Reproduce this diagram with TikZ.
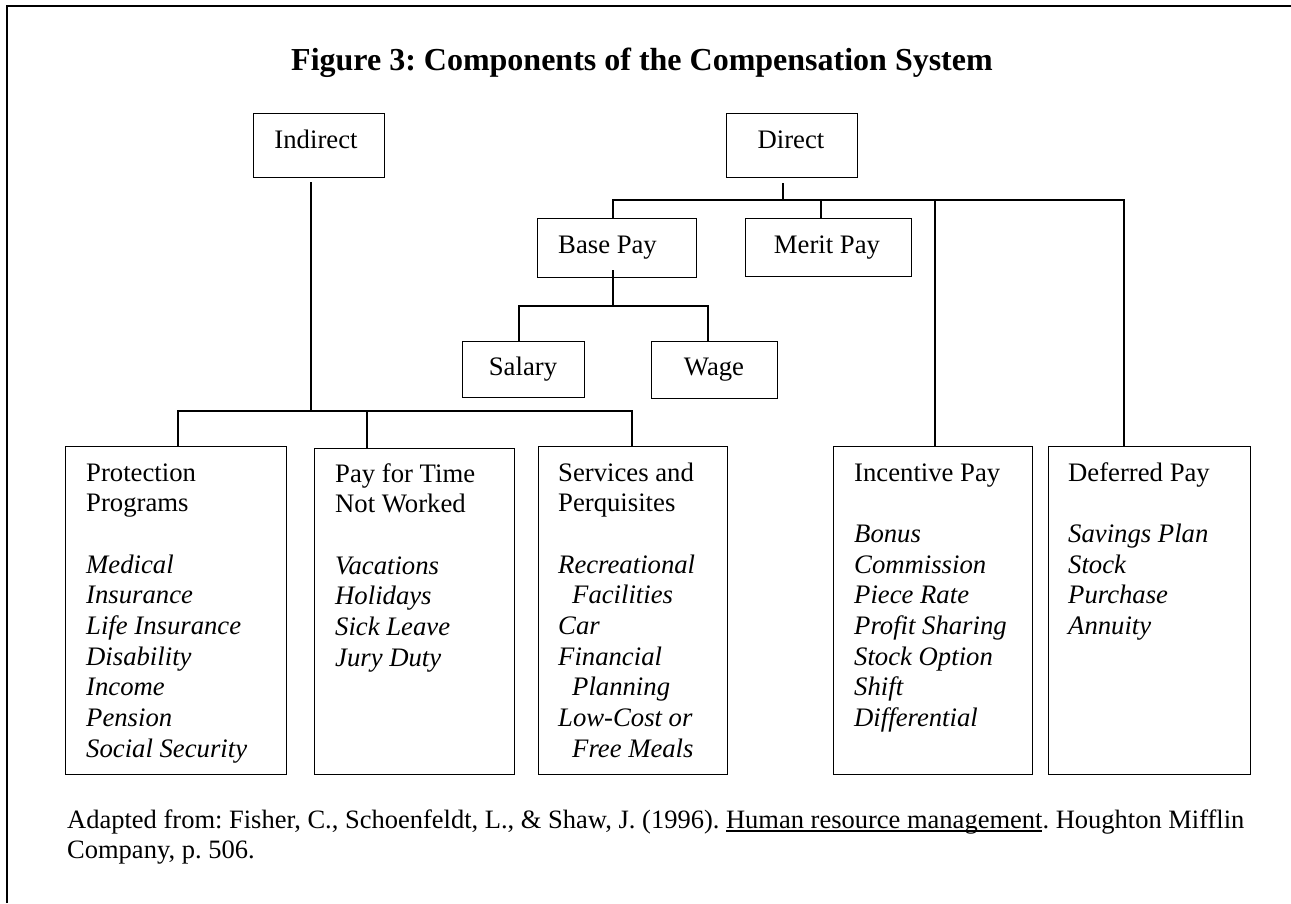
\documentclass[tikz,border=0pt]{standalone}
\usepackage{fontspec}
\setmainfont{Liberation Serif}
\frenchspacing
\newcommand\bodyfont{\fontsize{26.7}{30.7}\selectfont}
\newcommand\footfont{\fontsize{26.5}{30}\selectfont}
\newcommand\ind{\hspace*{14pt}}
\newcommand\myul[1]{\setbox0\hbox{#1}\rlap{\rule[-4pt]{\wd0}{2pt}}\box0}
\tikzset{
  box/.style={draw, line width=1.3pt, inner sep=0pt, anchor=north west},
  txt/.style={inner sep=0pt, font=\bodyfont},
  conn/.style={line width=1.3pt}
}
\begin{document}
\begin{tikzpicture}[x=1pt, y=-1pt]
\useasboundingbox (0,0) rectangle (1291,903);
% page frame
\draw[line width=2.2pt] (7,903) -- (7,6) -- (1291,6);
% title
\node[inner sep=0pt, anchor=base west, font=\fontsize{32}{36}\selectfont\bfseries] (title) at (291,70) {Figure 3: Components of the Compensation System};
% boxes
\node[box, minimum width=131pt, minimum height=64pt] (indir) at (253,113) {};
\node[box, minimum width=131pt, minimum height=64pt] (dir) at (726,113) {};
\node[box, minimum width=159pt, minimum height=59pt] (base) at (537,218) {};
\node[box, minimum width=166pt, minimum height=58pt] (merit) at (745,218) {};
\node[box, minimum width=122pt, minimum height=56pt] (sal) at (462,341) {};
\node[box, minimum width=126pt, minimum height=57pt] (wage) at (651,341) {};
\node[box, minimum width=221pt, minimum height=328pt] (prot) at (65,446) {};
\node[box, minimum width=200pt, minimum height=326pt] (pay) at (314,448) {};
\node[box, minimum width=189pt, minimum height=328pt] (serv) at (538,446) {};
\node[box, minimum width=199pt, minimum height=328pt] (inc) at (833,446) {};
\node[box, minimum width=202pt, minimum height=328pt] (def) at (1048,446) {};
% box texts
\node[txt, anchor=base] (indir-t) at (316,148) {Indirect};
\node[txt, anchor=base] (dir-t) at (791,148) {Direct};
\node[txt, anchor=base west] (base-t) at (558,253) {Base Pay};
\node[txt, anchor=base] (merit-t) at (827,253) {Merit Pay};
\node[txt, anchor=base] (sal-t) at (523,375) {Salary};
\node[txt, anchor=base] (wage-t) at (714,375) {Wage};
\node[txt, anchor=base west] (prot-t) at (86,481) {\vtop{\hbox{Protection}\hbox{Programs}\hbox{}%
  \hbox{\itshape Medical}\hbox{\itshape Insurance}\hbox{\itshape Life Insurance}\hbox{\itshape Disability}%
  \hbox{\itshape Income}\hbox{\itshape Pension}\hbox{\itshape Social Security}}};
\node[txt, anchor=base west] (pay-t) at (335,482) {\vtop{\hbox{Pay for Time}\hbox{Not Worked}\hbox{}%
  \hbox{\itshape Vacations}\hbox{\itshape Holidays}\hbox{\itshape Sick Leave}\hbox{\itshape Jury Duty}}};
\node[txt, anchor=base west] (serv-t) at (558,481) {\vtop{\hbox{Services and}\hbox{Perquisites}\hbox{}%
  \hbox{\itshape Recreational}\hbox{\ind\itshape Facilities}\hbox{\itshape Car}\hbox{\itshape Financial}%
  \hbox{\ind\itshape Planning}\hbox{\itshape Low-Cost or}\hbox{\ind\itshape Free Meals}}};
\node[txt, anchor=base west] (inc-t) at (854,481) {\vtop{\hbox{Incentive Pay}\hbox{}%
  \hbox{\itshape Bonus}\hbox{\itshape Commission}\hbox{\itshape Piece Rate}\hbox{\itshape Profit Sharing}%
  \hbox{\itshape Stock Option}\hbox{\itshape Shift}\hbox{\itshape Differential}}};
\node[txt, anchor=base west] (def-t) at (1068,481) {\vtop{\hbox{Deferred Pay}\hbox{}%
  \hbox{\itshape Savings Plan}\hbox{\itshape Stock}\hbox{\itshape Purchase}\hbox{\itshape Annuity}}};
% indirect connectors
\coordinate (i0) at (311,182);
\coordinate (i1) at (311,411);
\coordinate (ib1) at (178,411);
\coordinate (ib2) at (367,411);
\coordinate (ib3) at (632,411);
\draw[conn] (i0) -- (i1);
\draw[conn] (ib1 |- prot.north) -- (ib1) -- (ib3) -- (ib3 |- serv.north);
\draw[conn] (ib2) -- (ib2 |- pay.north);
% direct connectors
\coordinate (d0) at (783,183);
\coordinate (d1) at (783,200);
\coordinate (db1) at (613,200);
\coordinate (db2) at (821,200);
\coordinate (db3) at (935,200);
\coordinate (db4) at (1124,200);
\draw[conn] (d0) -- (d1);
\draw[conn] (db1 |- base.north) -- (db1) -- (db4) -- (db4 |- def.north);
\draw[conn] (db2) -- (db2 |- merit.north);
\draw[conn] (db3) -- (db3 |- inc.north);
% base pay connectors
\coordinate (b0) at (613,270);
\coordinate (b1) at (613,306);
\coordinate (bb1) at (519,306);
\coordinate (bb2) at (708,306);
\draw[conn] (b0) -- (b1);
\draw[conn] (bb1 |- sal.north) -- (bb1) -- (bb2) -- (bb2 |- wage.north);
% source
\node[inner sep=0pt, anchor=base west, font=\footfont] (src) at (67,828) {\vtop{\hbox{Adapted from: Fisher, C., Schoenfeldt, L., \& Shaw, J. (1996). \myul{Human resource management}. Houghton Mifflin}\hbox{Company, p. 506.}}};
\end{tikzpicture}
\end{document}
